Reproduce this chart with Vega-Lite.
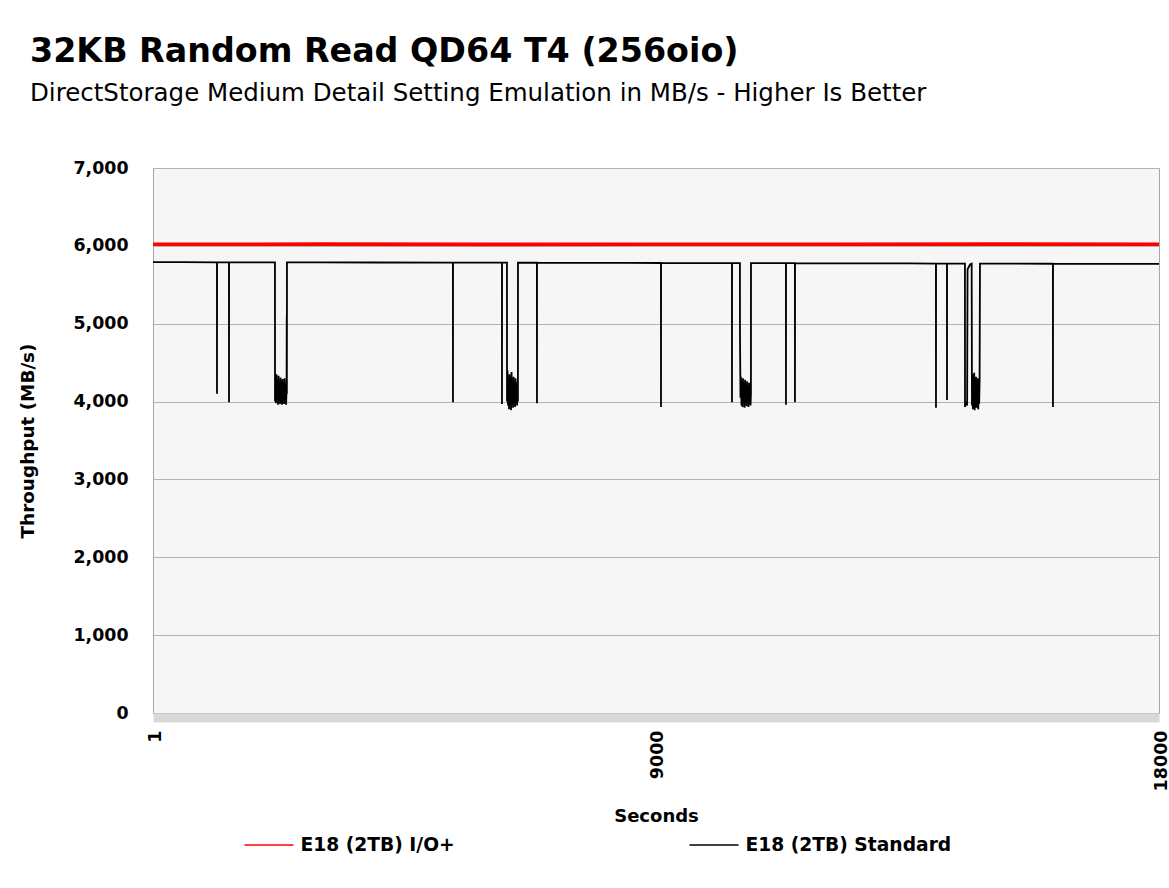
{
  "$schema": "https://vega.github.io/schema/vega-lite/v6.json",
  "width": 1006,
  "height": 545,
  "autosize": {"type": "none"},
  "padding": {"left": 153, "top": 168, "right": 10, "bottom": 175},
  "background": "white",
  "title": {
    "text": "32KB Random Read QD64 T4 (256oio)",
    "subtitle": "DirectStorage Medium Detail Setting Emulation in MB/s - Higher Is Better",
    "anchor": "start",
    "frame": "group",
    "dx": -123,
    "offset": 53,
    "font": "DejaVu Sans",
    "fontSize": 33.3,
    "fontWeight": "bold",
    "color": "#000000",
    "subtitleFont": "DejaVu Sans",
    "subtitleFontSize": 24.5,
    "subtitleColor": "#000000",
    "subtitlePadding": 12
  },
  "config": {
    "font": "DejaVu Sans",
    "view": {"fill": "#f6f6f6", "stroke": "#a6a6a6", "strokeWidth": 1}
  },
  "data": {
    "values": [
      {"t": 1, "v": 6020, "s": "E18 (2TB) I/O+"},
      {"t": 3000, "v": 6022, "s": "E18 (2TB) I/O+"},
      {"t": 6000, "v": 6019, "s": "E18 (2TB) I/O+"},
      {"t": 9000, "v": 6021, "s": "E18 (2TB) I/O+"},
      {"t": 12000, "v": 6020, "s": "E18 (2TB) I/O+"},
      {"t": 15000, "v": 6022, "s": "E18 (2TB) I/O+"},
      {"t": 18000, "v": 6020, "s": "E18 (2TB) I/O+"},

      {"t": 1, "v": 5790, "s": "E18 (2TB) Standard"},
      {"t": 500, "v": 5791, "s": "E18 (2TB) Standard"},
      {"t": 1145, "v": 5789, "s": "E18 (2TB) Standard"},
      {"t": 1146, "v": 4100, "s": "E18 (2TB) Standard"},
      {"t": 1147, "v": 5789, "s": "E18 (2TB) Standard"},
      {"t": 1360, "v": 5789, "s": "E18 (2TB) Standard"},
      {"t": 1361, "v": 3990, "s": "E18 (2TB) Standard"},
      {"t": 1362, "v": 5789, "s": "E18 (2TB) Standard"},
      {"t": 2183, "v": 5788, "s": "E18 (2TB) Standard"},
      {"t": 2184, "v": 4000, "s": "E18 (2TB) Standard"},
      {"t": 2193, "v": 4300, "s": "E18 (2TB) Standard"},
      {"t": 2202, "v": 3980, "s": "E18 (2TB) Standard"},
      {"t": 2211, "v": 4350, "s": "E18 (2TB) Standard"},
      {"t": 2220, "v": 4020, "s": "E18 (2TB) Standard"},
      {"t": 2229, "v": 4280, "s": "E18 (2TB) Standard"},
      {"t": 2238, "v": 3960, "s": "E18 (2TB) Standard"},
      {"t": 2247, "v": 4330, "s": "E18 (2TB) Standard"},
      {"t": 2256, "v": 4010, "s": "E18 (2TB) Standard"},
      {"t": 2265, "v": 4250, "s": "E18 (2TB) Standard"},
      {"t": 2274, "v": 3970, "s": "E18 (2TB) Standard"},
      {"t": 2283, "v": 4310, "s": "E18 (2TB) Standard"},
      {"t": 2292, "v": 4000, "s": "E18 (2TB) Standard"},
      {"t": 2301, "v": 4200, "s": "E18 (2TB) Standard"},
      {"t": 2310, "v": 3960, "s": "E18 (2TB) Standard"},
      {"t": 2319, "v": 4290, "s": "E18 (2TB) Standard"},
      {"t": 2328, "v": 4030, "s": "E18 (2TB) Standard"},
      {"t": 2337, "v": 4240, "s": "E18 (2TB) Standard"},
      {"t": 2346, "v": 3970, "s": "E18 (2TB) Standard"},
      {"t": 2355, "v": 4300, "s": "E18 (2TB) Standard"},
      {"t": 2364, "v": 4000, "s": "E18 (2TB) Standard"},
      {"t": 2373, "v": 4220, "s": "E18 (2TB) Standard"},
      {"t": 2382, "v": 3960, "s": "E18 (2TB) Standard"},
      {"t": 2391, "v": 4150, "s": "E18 (2TB) Standard"},
      {"t": 2394, "v": 5110, "s": "E18 (2TB) Standard"},
      {"t": 2396, "v": 4100, "s": "E18 (2TB) Standard"},
      {"t": 2398, "v": 5788, "s": "E18 (2TB) Standard"},
      {"t": 3000, "v": 5787, "s": "E18 (2TB) Standard"},
      {"t": 4000, "v": 5786, "s": "E18 (2TB) Standard"},
      {"t": 5367, "v": 5785, "s": "E18 (2TB) Standard"},
      {"t": 5368, "v": 3990, "s": "E18 (2TB) Standard"},
      {"t": 5369, "v": 5785, "s": "E18 (2TB) Standard"},
      {"t": 6244, "v": 5784, "s": "E18 (2TB) Standard"},
      {"t": 6245, "v": 3970, "s": "E18 (2TB) Standard"},
      {"t": 6246, "v": 5784, "s": "E18 (2TB) Standard"},
      {"t": 6334, "v": 5784, "s": "E18 (2TB) Standard"},
      {"t": 6335, "v": 4000, "s": "E18 (2TB) Standard"},
      {"t": 6344, "v": 4400, "s": "E18 (2TB) Standard"},
      {"t": 6353, "v": 3950, "s": "E18 (2TB) Standard"},
      {"t": 6362, "v": 4300, "s": "E18 (2TB) Standard"},
      {"t": 6371, "v": 3900, "s": "E18 (2TB) Standard"},
      {"t": 6380, "v": 4350, "s": "E18 (2TB) Standard"},
      {"t": 6389, "v": 4000, "s": "E18 (2TB) Standard"},
      {"t": 6398, "v": 4250, "s": "E18 (2TB) Standard"},
      {"t": 6407, "v": 3890, "s": "E18 (2TB) Standard"},
      {"t": 6416, "v": 4380, "s": "E18 (2TB) Standard"},
      {"t": 6425, "v": 3960, "s": "E18 (2TB) Standard"},
      {"t": 6434, "v": 4200, "s": "E18 (2TB) Standard"},
      {"t": 6443, "v": 3920, "s": "E18 (2TB) Standard"},
      {"t": 6452, "v": 4320, "s": "E18 (2TB) Standard"},
      {"t": 6461, "v": 4000, "s": "E18 (2TB) Standard"},
      {"t": 6470, "v": 4180, "s": "E18 (2TB) Standard"},
      {"t": 6479, "v": 3930, "s": "E18 (2TB) Standard"},
      {"t": 6488, "v": 4300, "s": "E18 (2TB) Standard"},
      {"t": 6497, "v": 3980, "s": "E18 (2TB) Standard"},
      {"t": 6506, "v": 4150, "s": "E18 (2TB) Standard"},
      {"t": 6515, "v": 3950, "s": "E18 (2TB) Standard"},
      {"t": 6524, "v": 4250, "s": "E18 (2TB) Standard"},
      {"t": 6530, "v": 4000, "s": "E18 (2TB) Standard"},
      {"t": 6531, "v": 5784, "s": "E18 (2TB) Standard"},
      {"t": 6870, "v": 5783, "s": "E18 (2TB) Standard"},
      {"t": 6871, "v": 3980, "s": "E18 (2TB) Standard"},
      {"t": 6872, "v": 5783, "s": "E18 (2TB) Standard"},
      {"t": 7500, "v": 5782, "s": "E18 (2TB) Standard"},
      {"t": 8500, "v": 5781, "s": "E18 (2TB) Standard"},
      {"t": 9089, "v": 5780, "s": "E18 (2TB) Standard"},
      {"t": 9090, "v": 3930, "s": "E18 (2TB) Standard"},
      {"t": 9091, "v": 5780, "s": "E18 (2TB) Standard"},
      {"t": 10000, "v": 5779, "s": "E18 (2TB) Standard"},
      {"t": 10359, "v": 5778, "s": "E18 (2TB) Standard"},
      {"t": 10360, "v": 3990, "s": "E18 (2TB) Standard"},
      {"t": 10361, "v": 5778, "s": "E18 (2TB) Standard"},
      {"t": 10502, "v": 5778, "s": "E18 (2TB) Standard"},
      {"t": 10503, "v": 4880, "s": "E18 (2TB) Standard"},
      {"t": 10512, "v": 4050, "s": "E18 (2TB) Standard"},
      {"t": 10521, "v": 4320, "s": "E18 (2TB) Standard"},
      {"t": 10530, "v": 3950, "s": "E18 (2TB) Standard"},
      {"t": 10539, "v": 4250, "s": "E18 (2TB) Standard"},
      {"t": 10548, "v": 3930, "s": "E18 (2TB) Standard"},
      {"t": 10557, "v": 4300, "s": "E18 (2TB) Standard"},
      {"t": 10566, "v": 3990, "s": "E18 (2TB) Standard"},
      {"t": 10575, "v": 4200, "s": "E18 (2TB) Standard"},
      {"t": 10584, "v": 3920, "s": "E18 (2TB) Standard"},
      {"t": 10593, "v": 4280, "s": "E18 (2TB) Standard"},
      {"t": 10602, "v": 4000, "s": "E18 (2TB) Standard"},
      {"t": 10611, "v": 4150, "s": "E18 (2TB) Standard"},
      {"t": 10620, "v": 3940, "s": "E18 (2TB) Standard"},
      {"t": 10629, "v": 4260, "s": "E18 (2TB) Standard"},
      {"t": 10638, "v": 3970, "s": "E18 (2TB) Standard"},
      {"t": 10647, "v": 4180, "s": "E18 (2TB) Standard"},
      {"t": 10656, "v": 3930, "s": "E18 (2TB) Standard"},
      {"t": 10665, "v": 4240, "s": "E18 (2TB) Standard"},
      {"t": 10674, "v": 3990, "s": "E18 (2TB) Standard"},
      {"t": 10683, "v": 4150, "s": "E18 (2TB) Standard"},
      {"t": 10692, "v": 3950, "s": "E18 (2TB) Standard"},
      {"t": 10699, "v": 4100, "s": "E18 (2TB) Standard"},
      {"t": 10700, "v": 5778, "s": "E18 (2TB) Standard"},
      {"t": 11000, "v": 5777, "s": "E18 (2TB) Standard"},
      {"t": 11325, "v": 5777, "s": "E18 (2TB) Standard"},
      {"t": 11326, "v": 3960, "s": "E18 (2TB) Standard"},
      {"t": 11327, "v": 5777, "s": "E18 (2TB) Standard"},
      {"t": 11486, "v": 5777, "s": "E18 (2TB) Standard"},
      {"t": 11487, "v": 3990, "s": "E18 (2TB) Standard"},
      {"t": 11488, "v": 5777, "s": "E18 (2TB) Standard"},
      {"t": 12500, "v": 5775, "s": "E18 (2TB) Standard"},
      {"t": 13500, "v": 5774, "s": "E18 (2TB) Standard"},
      {"t": 14009, "v": 5773, "s": "E18 (2TB) Standard"},
      {"t": 14010, "v": 3920, "s": "E18 (2TB) Standard"},
      {"t": 14011, "v": 5773, "s": "E18 (2TB) Standard"},
      {"t": 14206, "v": 5773, "s": "E18 (2TB) Standard"},
      {"t": 14207, "v": 4020, "s": "E18 (2TB) Standard"},
      {"t": 14208, "v": 5773, "s": "E18 (2TB) Standard"},
      {"t": 14528, "v": 5772, "s": "E18 (2TB) Standard"},
      {"t": 14529, "v": 3930, "s": "E18 (2TB) Standard"},
      {"t": 14540, "v": 4000, "s": "E18 (2TB) Standard"},
      {"t": 14567, "v": 3950, "s": "E18 (2TB) Standard"},
      {"t": 14575, "v": 5700, "s": "E18 (2TB) Standard"},
      {"t": 14620, "v": 5760, "s": "E18 (2TB) Standard"},
      {"t": 14648, "v": 5770, "s": "E18 (2TB) Standard"},
      {"t": 14654, "v": 3950, "s": "E18 (2TB) Standard"},
      {"t": 14662, "v": 4350, "s": "E18 (2TB) Standard"},
      {"t": 14670, "v": 3900, "s": "E18 (2TB) Standard"},
      {"t": 14678, "v": 4300, "s": "E18 (2TB) Standard"},
      {"t": 14686, "v": 3960, "s": "E18 (2TB) Standard"},
      {"t": 14694, "v": 4370, "s": "E18 (2TB) Standard"},
      {"t": 14702, "v": 3890, "s": "E18 (2TB) Standard"},
      {"t": 14710, "v": 4250, "s": "E18 (2TB) Standard"},
      {"t": 14718, "v": 3980, "s": "E18 (2TB) Standard"},
      {"t": 14726, "v": 4320, "s": "E18 (2TB) Standard"},
      {"t": 14734, "v": 3920, "s": "E18 (2TB) Standard"},
      {"t": 14742, "v": 4200, "s": "E18 (2TB) Standard"},
      {"t": 14750, "v": 3960, "s": "E18 (2TB) Standard"},
      {"t": 14758, "v": 4300, "s": "E18 (2TB) Standard"},
      {"t": 14766, "v": 3900, "s": "E18 (2TB) Standard"},
      {"t": 14774, "v": 4180, "s": "E18 (2TB) Standard"},
      {"t": 14782, "v": 3970, "s": "E18 (2TB) Standard"},
      {"t": 14790, "v": 4250, "s": "E18 (2TB) Standard"},
      {"t": 14797, "v": 5771, "s": "E18 (2TB) Standard"},
      {"t": 15000, "v": 5771, "s": "E18 (2TB) Standard"},
      {"t": 16102, "v": 5770, "s": "E18 (2TB) Standard"},
      {"t": 16103, "v": 3930, "s": "E18 (2TB) Standard"},
      {"t": 16104, "v": 5770, "s": "E18 (2TB) Standard"},
      {"t": 17000, "v": 5769, "s": "E18 (2TB) Standard"},
      {"t": 18000, "v": 5768, "s": "E18 (2TB) Standard"}
    ]
  },
  "encoding": {
    "x": {
      "field": "t",
      "type": "quantitative",
      "scale": {"domain": [1, 18000], "nice": false, "zero": false},
      "axis": {
        "values": [1, 9000, 18000],
        "format": "d",
        "labelAngle": -90,
        "labelFont": "DejaVu Sans",
        "labelFontSize": 17.5,
        "labelFontWeight": "bold",
        "labelColor": "#000000",
        "labelPadding": 12.5,
        "labelOffset": 2,
        "ticks": false,
        "grid": false,
        "domainColor": "#d9d9d9",
        "domainWidth": 9,
        "offset": 4.5,
        "title": "Seconds",
        "titleFont": "DejaVu Sans",
        "titleFontSize": 18,
        "titleFontWeight": "bold",
        "titleColor": "#000000",
        "titleY": 99,
        "titleBaseline": "middle"
      }
    },
    "y": {
      "field": "v",
      "type": "quantitative",
      "scale": {"domain": [0, 7000], "nice": false},
      "axis": {
        "values": [0, 1000, 2000, 3000, 4000, 5000, 6000, 7000],
        "format": ",d",
        "labelFont": "DejaVu Sans",
        "labelFontSize": 17.4,
        "labelFontWeight": "bold",
        "labelColor": "#000000",
        "labelPadding": 25,
        "ticks": false,
        "domain": false,
        "grid": true,
        "gridColor": "#b3b3b3",
        "gridWidth": 1,
        "title": "Throughput (MB/s)",
        "titleFont": "DejaVu Sans",
        "titleFontSize": 18.4,
        "titleFontWeight": "bold",
        "titleColor": "#000000",
        "titleX": -126,
        "titleBaseline": "middle"
      }
    }
  },
  "layer": [
    {
      "transform": [{"filter": "datum.s === 'E18 (2TB) I/O+'"}],
      "mark": {"type": "line", "clip": true, "color": "#ff0000", "strokeWidth": 3.6}
    },
    {
      "mark": {"type": "line", "clip": true, "strokeWidth": 1.8},
      "encoding": {
        "color": {
          "field": "s",
          "type": "nominal",
          "scale": {"domain": ["E18 (2TB) I/O+", "E18 (2TB) Standard"], "range": ["#ff0000", "#000000"]},
          "legend": {
            "title": null,
            "orient": "none",
            "direction": "horizontal",
            "legendX": 90.5,
            "legendY": 651,
            "symbolType": "stroke",
            "symbolSize": 2401,
            "symbolStrokeWidth": 1.5,
            "labelFont": "DejaVu Sans",
            "labelFontSize": 18.7,
            "labelFontWeight": "bold",
            "labelColor": "#000000",
            "labelOffset": 6,
            "labelLimit": 400,
            "columnPadding": 231,
            "padding": 0
          }
        }
      }
    }
  ]
}
